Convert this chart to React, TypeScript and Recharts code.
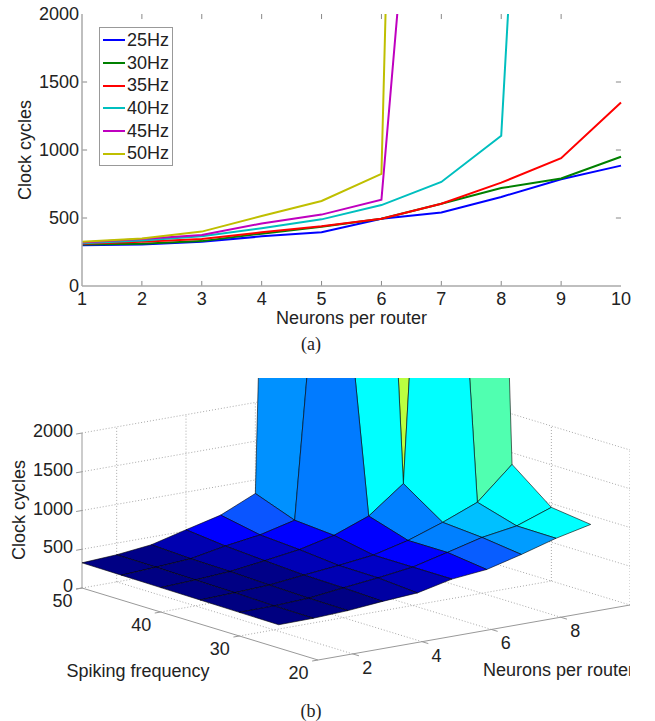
import React from 'react';
import { LineChart, Line, XAxis, YAxis, Legend, ScatterChart, Scatter, ReferenceLine } from 'recharts';

const NEURONS = [1, 2, 3, 4, 5, 6, 7, 8, 9, 10];
const FREQS = [25, 30, 35, 40, 45, 50];
const HZ25 = [300, 305, 325, 365, 395, 495, 540, 655, 785, 885];
const HZ30 = [305, 310, 330, 385, 435, 495, 605, 720, 790, 950];
const HZ35 = [310, 325, 345, 395, 440, 495, 605, 760, 940, 1350];
const HZ40 = [315, 335, 365, 425, 490, 595, 765, 1105, 9000, 18000];
const HZ45 = [320, 345, 375, 460, 525, 635, 5800, 11700, 20000, 28000];
const HZ50 = [325, 350, 400, 515, 625, 825, 18000, 26000, 34000, 42000];
const SERIES = [HZ25, HZ30, HZ35, HZ40, HZ45, HZ50];
const LINE_COLORS = ['#0000ff', '#008000', '#ff0000', '#00bfbf', '#bf00bf', '#bfbf00'];

const X_TICKS = NEURONS;
const Y_TICKS = [0, 500, 1000, 1500, 2000];
const Z_TICKS = [500, 1000, 1500, 2000];
const FREQ_TICKS = [50, 40, 30, 20];
const NEURON_TICKS = [2, 4, 6, 8];

// cell colour follows the z of the cell's lowest corner (jet-like)
const COLOR_LEVELS = [300, 345, 375, 425, 440, 460, 495, 525, 605, 720, 755, 800, 940, 1105];
const COLOR_RGB = [
  [0, 0, 128], [0, 0, 136], [0, 0, 176], [0, 0, 192], [0, 0, 200], [0, 0, 255], [0, 0, 255],
  [10, 85, 255], [0, 128, 255], [0, 192, 255], [0, 255, 255], [0, 255, 255], [80, 255, 176], [187, 255, 64],
];

const FONT = '"Liberation Sans", Arial, sans-serif';
const TEXT = '#222222';
const AXIS = '#aaaaaa';

const lineRows = NEURONS.map((n, i) => {
  const row: Record<string, number> = { neurons: n };
  FREQS.forEach((f, s) => { row[`hz${f}`] = SERIES[s][i]; });
  return row;
});

function cellColor(z: number) {
  let i = 0;
  while (i < COLOR_LEVELS.length - 2 && z > COLOR_LEVELS[i + 1]) i++;
  const t = Math.max(0, Math.min(1, (z - COLOR_LEVELS[i]) / (COLOR_LEVELS[i + 1] - COLOR_LEVELS[i])));
  const c = COLOR_RGB[i].map((v, k) => Math.round(v + (COLOR_RGB[i + 1][k] - v) * t));
  return `rgb(${c[0]},${c[1]},${c[2]})`;
}

// orthographic view of the 3d box, in the pixel units of the lower chart's axes
function project(n: number, f: number, z: number) {
  return {
    x: 82 + (n - 1) * 34.67 + (50 - f) * 7.867,
    y: 588 - (n - 1) * 6.11 + (50 - f) * 2.4 - z * 0.0775,
  };
}

// painter's order, from the far corner to the near one
const cells: any[] = [];
for (let i = NEURONS.length - 2; i >= 0; i--) {
  for (let j = FREQS.length - 2; j >= 0; j--) {
    const corners = [
      project(NEURONS[i], FREQS[j], SERIES[j][i]),
      project(NEURONS[i + 1], FREQS[j], SERIES[j][i + 1]),
      project(NEURONS[i + 1], FREQS[j + 1], SERIES[j + 1][i + 1]),
      project(NEURONS[i], FREQS[j + 1], SERIES[j + 1][i]),
    ];
    cells.push({ x: corners[0].x, y: corners[0].y, corners, color: cellColor(SERIES[j][i]) });
  }
}

function CellShape({ cx, cy, payload }: any) {
  const pts = payload.corners.map((c: any) => `${cx + c.x - payload.x},${cy + c.y - payload.y}`).join(' ');
  return <polygon points={pts} fill={payload.color} stroke="#000" strokeOpacity={0.75} strokeWidth={0.8} strokeLinejoin="round" />;
}

function LabelShape({ cx, cy, payload }: any) {
  return (
    <text x={cx} y={cy} textAnchor={payload.anchor} dominantBaseline="central" fontFamily={FONT} fontSize={18} fill={TEXT}
      transform={payload.rotate ? `rotate(${payload.rotate} ${cx} ${cy})` : undefined}>
      {payload.text}
    </text>
  );
}

const gridSegments = [
  ...Z_TICKS.flatMap((z) => [
    [project(1, 50, z), project(10, 50, z)],
    [project(10, 50, z), project(10, 20, z)],
  ]),
  ...NEURON_TICKS.flatMap((n) => [
    [project(n, 50, 0), project(n, 50, 2000)],
    [project(n, 20, 0), project(n, 50, 0)],
  ]),
  ...[40, 30].flatMap((f) => [
    [project(10, f, 0), project(10, f, 2000)],
    [project(1, f, 0), project(10, f, 0)],
  ]),
  [project(10, 50, 0), project(10, 50, 2000)],
  [project(10, 20, 0), project(10, 20, 2000)],
  [project(1, 50, 0), project(10, 50, 0)],
  [project(10, 50, 0), project(10, 20, 0)],
];

const axisSegments = [
  [project(1, 50, 0), project(1, 50, 2000)],
  [project(1, 50, 0), project(1, 20, 0)],
  [project(1, 20, 0), project(10, 20, 0)],
  ...[0, ...Z_TICKS].map((z) => [project(1, 50, z), project(0.83, 50, z)]),
  ...FREQ_TICKS.map((f) => [project(1, f, 0), project(0.83, f, 0)]),
  ...NEURON_TICKS.map((n) => [project(n, 20, 0), project(n, 19.2, 0)]),
];

const labels = [
  ...[0, ...Z_TICKS].map((z) => ({ ...project(1, 50, z), dx: -9, dy: -2, text: String(z), anchor: 'end' })),
  ...FREQ_TICKS.map((f) => ({ ...project(1, f, 0), dx: -19.5, dy: 13, text: String(f), anchor: 'middle' })),
  ...NEURON_TICKS.map((n) => ({ ...project(n, 20, 0), dx: 14.5, dy: 14, text: String(n), anchor: 'middle' })),
].map((l) => ({ x: l.x + l.dx, y: l.y + l.dy, text: l.text, anchor: l.anchor })).concat([
  { x: 138, y: 671, text: 'Spiking frequency', anchor: 'middle' },
  { x: 483, y: 669.5, text: 'Neurons per router', anchor: 'start' },
]);
const zTitle = [{ x: 19, y: 510, text: 'Clock cycles', anchor: 'middle', rotate: -90 }];

function LegendBox({ payload }: any) {
  return (
    <div style={{ width: 74, height: 139, boxSizing: 'border-box', border: '1px solid #999', background: '#fff', paddingTop: 1 }}>
      {(payload || []).map((p: any) => (
        <div key={p.value} style={{ display: 'flex', alignItems: 'center', height: 22.7, fontFamily: FONT, fontSize: 18, color: TEXT }}>
          <span style={{ display: 'inline-block', width: 22, height: 2, marginLeft: 3, marginRight: 2, background: p.color }} />
          {p.value}
        </div>
      ))}
    </div>
  );
}

const tickFont = { fontFamily: FONT, fontSize: 18, fill: TEXT };
const axisLine = { stroke: AXIS, strokeWidth: 1.5 };
const caption: React.CSSProperties = { position: 'absolute', left: 261, width: 100, textAlign: 'center', fontFamily: '"Liberation Serif", serif', fontSize: 18, color: TEXT, lineHeight: '20px' };

// inward tick lengths of the box axes, in data units (about 5px)
const X_TICK_LEN = 0.085;
const Y_TICK_LEN = 37;

export default function App() {
  return (
    <div style={{ position: 'absolute', left: 0, top: 0, width: 655, height: 721, background: '#fff', overflow: 'hidden' }}>
      <div style={{ position: 'absolute', left: 0, top: 0 }}>
        <LineChart width={655} height={330} data={lineRows} margin={{ top: 14, right: 34, bottom: 0, left: 0 }}>
          <XAxis dataKey="neurons" type="number" domain={[1, 10]} ticks={X_TICKS} interval={0} tick={tickFont} height={44}
            axisLine={axisLine} tickLine={false} tickSize={0} tickMargin={6}
            label={{ value: 'Neurons per router', position: 'insideBottom', offset: 6, style: { ...tickFont } }} />
          <XAxis xAxisId="top" orientation="top" dataKey="neurons" type="number" domain={[1, 10]} ticks={[]} tick={false} height={0}
            axisLine={axisLine} tickLine={false} />
          <YAxis type="number" domain={[0, 2000]} allowDataOverflow ticks={Y_TICKS} interval={0} tick={tickFont} width={82}
            axisLine={axisLine} tickLine={false} tickSize={0} tickMargin={3}
            label={{ value: 'Clock cycles', angle: -90, position: 'insideLeft', offset: 25, style: { ...tickFont, textAnchor: 'middle' } }} />
          <YAxis yAxisId="right" orientation="right" type="number" domain={[0, 2000]} ticks={[]} tick={false} width={0}
            axisLine={axisLine} tickLine={false} />
          {X_TICKS.slice(1, -1).flatMap((n) => [
            <ReferenceLine key={`b${n}`} segment={[{ x: n, y: 0 }, { x: n, y: Y_TICK_LEN }]} stroke="#888" />,
            <ReferenceLine key={`t${n}`} segment={[{ x: n, y: 2000 }, { x: n, y: 2000 - Y_TICK_LEN }]} stroke="#888" />,
          ])}
          {Y_TICKS.slice(1, -1).flatMap((v) => [
            <ReferenceLine key={`l${v}`} segment={[{ x: 1, y: v }, { x: 1 + X_TICK_LEN, y: v }]} stroke="#888" />,
            <ReferenceLine key={`r${v}`} segment={[{ x: 10, y: v }, { x: 10 - X_TICK_LEN, y: v }]} stroke="#888" />,
          ])}
          <Legend layout="vertical" align="center" verticalAlign="middle" content={<LegendBox />}
            wrapperStyle={{ position: 'absolute', left: 99, top: 27, width: 74, height: 139, margin: 0 }} />
          {FREQS.map((f, s) => (
            <Line key={f} dataKey={`hz${f}`} name={`${f}Hz`} stroke={LINE_COLORS[s]} strokeWidth={2} dot={false} isAnimationActive={false} />
          ))}
        </LineChart>
      </div>
      <div style={{ ...caption, top: 334 }}>(a)</div>

      <div style={{ position: 'absolute', left: 0, top: 378 }}>
        <ScatterChart width={630} height={343} margin={{ top: 0, right: 0, bottom: 0, left: 0 }}>
          <XAxis dataKey="x" type="number" domain={[0, 630]} allowDataOverflow hide />
          <YAxis dataKey="y" type="number" domain={[378, 721]} allowDataOverflow reversed hide />
          {gridSegments.map((seg, i) => (
            <ReferenceLine key={`g${i}`} segment={seg as any} stroke="#aaa" strokeWidth={1} strokeDasharray="1 2" ifOverflow="visible" />
          ))}
          {axisSegments.map((seg, i) => (
            <ReferenceLine key={`a${i}`} segment={seg as any} stroke="#999" strokeWidth={1} ifOverflow="visible" />
          ))}
          <Scatter data={cells} shape={<CellShape />} isAnimationActive={false} />
          <Scatter data={labels} shape={<LabelShape />} isAnimationActive={false} />
          <Scatter data={zTitle} shape={<LabelShape />} isAnimationActive={false} />
        </ScatterChart>
      </div>
      <div style={{ ...caption, top: 701 }}>(b)</div>
    </div>
  );
}
